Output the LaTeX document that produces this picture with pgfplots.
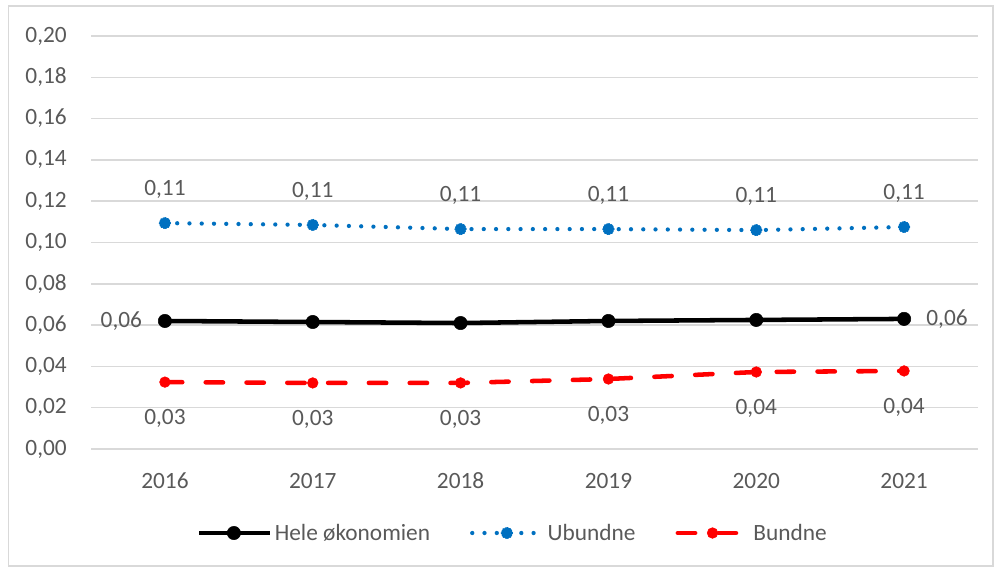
\documentclass[border=0pt]{standalone}
\usepackage{fontspec}
\setmainfont{Carlito}
\usepackage{pgfplots}
\pgfplotsset{compat=1.18}

\definecolor{txt}{HTML}{595959}
\definecolor{gridc}{HTML}{D9D9D9}
\definecolor{ublue}{HTML}{0070C0}
\definecolor{bred}{HTML}{FF0000}

\begin{document}
\begin{tikzpicture}
\useasboundingbox (0,0) rectangle (746.25pt,426.75pt);
\draw[gridc, line width=1.1pt] (6.4pt,2.25pt) rectangle (744.75pt,422.25pt);
\begin{axis}[
  at={(68.25pt,90pt)}, anchor=south west,
  scale only axis, width=665.25pt, height=309.75pt,
  xmin=-0.5, xmax=5.5, ymin=0, ymax=0.20,
  xtick={0,...,5}, xticklabels={2016,2017,2018,2019,2020,2021},
  ytick={0,0.02,...,0.201},
  axis x line*=bottom, axis y line*=left,
  x axis line style={gridc, line width=1.1pt, -},
  y axis line style={draw=none},
  major tick length=0pt,
  ymajorgrids, grid style={gridc, line width=1.1pt},
  font=\fontsize{17.5}{20}\selectfont, tick label style={txt},
  /pgf/number format/assume math mode=true,
  yticklabel style={/pgf/number format/fixed, /pgf/number format/fixed zerofill,
    /pgf/number format/precision=2, /pgf/number format/use comma,
    anchor=east, inner sep=0pt, xshift=-18pt},
  xticklabel style={anchor=center, inner sep=0pt, yshift=-24pt},
  nodes near coords style={/pgf/number format/fixed, /pgf/number format/fixed zerofill,
    /pgf/number format/precision=2, /pgf/number format/use comma,
    /pgf/number format/assume math mode=true,
    txt, inner sep=0pt, font=\fontsize{17.5}{20}\selectfont},
  legend style={at={(0.476,-0.2034)}, anchor=center, draw=none, fill=none,
    legend columns=3, font=\fontsize{17.5}{20}\selectfont, text=txt,
    /tikz/every even column/.append style={column sep=28pt}},
  legend image code/.code={\draw[mark repeat=2, mark phase=2, #1] plot coordinates {(0pt,0pt) (26pt,0pt) (53pt,0pt)};},
  clip=false,
]
% Hele økonomien
\addplot[black, line width=3.4pt, mark=*, mark size=5pt, mark options={solid, line width=0.4pt}]
  coordinates {(0,0.0620) (1,0.0615) (2,0.0610) (3,0.0620) (4,0.0625) (5,0.0630)};
\addlegendentry{Hele økonomien}
% Ubundne
\addplot[ublue, line width=3.2pt, line cap=round, dash pattern=on 0pt off 9.2pt,
  mark=*, mark size=4.2pt, mark options={solid, line width=0.8pt, densely dotted},
  nodes near coords, nodes near coords style={anchor=center, yshift=25pt}]
  coordinates {(0,0.1094) (1,0.1085) (2,0.1065) (3,0.1065) (4,0.1060) (5,0.1075)};
\addlegendentry{Ubundne}
% Bundne
\addplot[bred, line width=3.4pt, line cap=round, dash pattern=on 13pt off 17.6pt,
  mark=*, mark size=4pt, mark options={solid, line width=0.4pt},
  nodes near coords, nodes near coords style={anchor=center, yshift=-27pt}]
  coordinates {(0,0.0324) (1,0.0320) (2,0.0320) (3,0.0339) (4,0.0373) (5,0.0378)};
\addlegendentry{Bundne}
% end labels for Hele økonomien
\addplot[draw=none, forget plot, nodes near coords, nodes near coords style={anchor=east, xshift=-17pt}]
  coordinates {(0,0.0620)};
\addplot[draw=none, forget plot, nodes near coords, nodes near coords style={anchor=west, xshift=16.5pt}]
  coordinates {(5,0.0630)};
\end{axis}
\end{tikzpicture}
\end{document}
